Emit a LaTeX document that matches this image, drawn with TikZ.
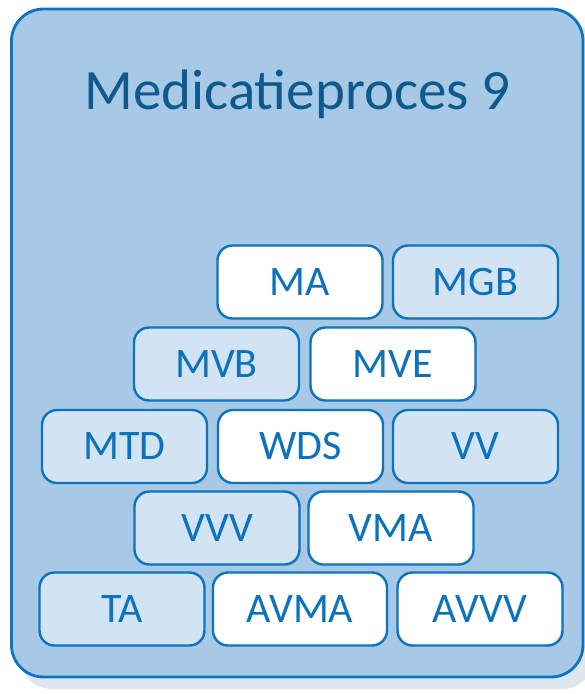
\documentclass[tikz,border=0pt]{standalone}
\usepackage{fontspec}
\setmainfont{Carlito}
\usepackage{tikz}
\definecolor{kader}{HTML}{0B74C0}
\definecolor{vlak}{HTML}{A7C9E5}
\definecolor{licht}{HTML}{D2E3F3}
\definecolor{schaduw}{HTML}{DDE5EE}
\definecolor{titel}{HTML}{0E5A8E}
\definecolor{letter}{HTML}{0B72BE}

\begin{document}
\begin{tikzpicture}[x=1pt, y=-1pt]
\tikzstyle{blok}=[draw=kader, line width=2.4pt, rounded corners=15pt, minimum width=165pt, minimum height=73pt, inner sep=0pt, text height=26.5pt, text depth=0pt, text=letter, font=\fontsize{42}{46}\selectfont]
\tikzstyle{wit}=[blok, fill=white]
\tikzstyle{blauw}=[blok, fill=licht]
\useasboundingbox (0,0) rectangle (585,694);
\clip (0,0) rectangle (585,694);

% schaduw en kader
\fill[schaduw, rounded corners=32pt] (20,19) rectangle (594,689);
\draw[kader, fill=vlak, line width=2.8pt, rounded corners=32pt] (11.5,9) rectangle (583,677);
\node[anchor=base, text=titel, font=\fontsize{57}{62}\selectfont] (titel) at (297.5,109) {Medicatieproces 9};

\node[wit] (ma) at (300,282) {MA};
\node[blauw] (mgb) at (475.5,282) {MGB};

\node[blauw] (mvb) at (216.5,364) {MVB};
\node[wit] (mve) at (393,364) {MVE};

\node[blauw] (mtd) at (124.5,446.5) {MTD};
\node[wit] (wds) at (300.5,446.5) {WDS};
\node[blauw] (vv) at (475.5,446.5) {VV};

\node[blauw] (vvv) at (217,528) {VVV};
\node[wit] (vma) at (391,528) {VMA};

\node[blauw] (ta) at (122,609) {TA};
\node[wit, minimum width=174pt] (avma) at (300,609) {AVMA};
\node[wit] (avvv) at (480,609) {AVVV};

\end{tikzpicture}
\end{document}
